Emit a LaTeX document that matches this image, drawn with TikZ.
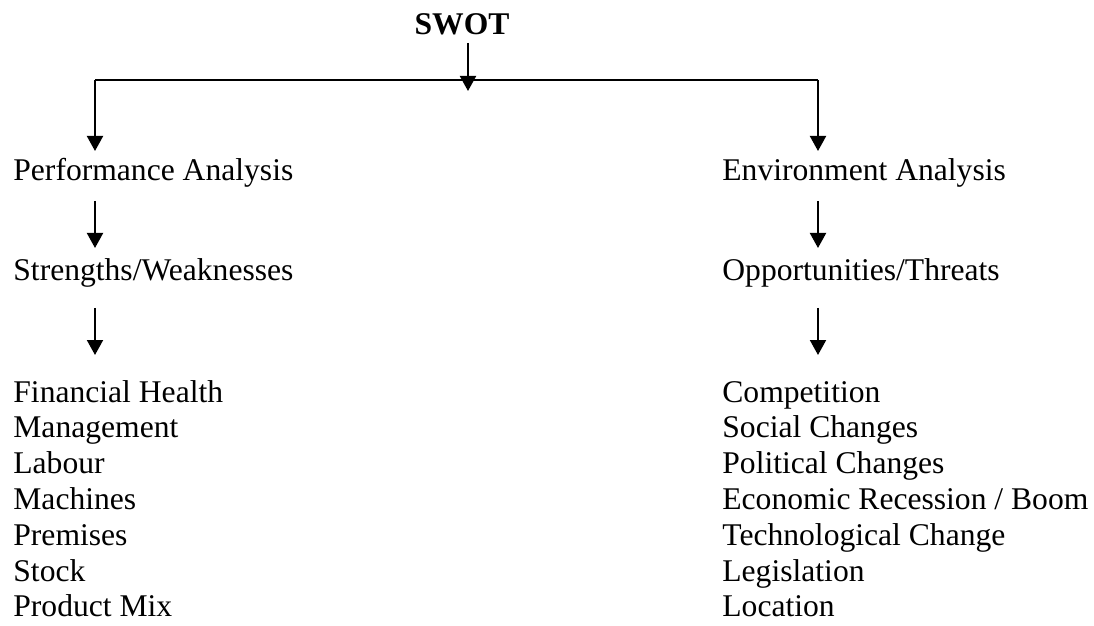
\documentclass[tikz,border=0pt]{standalone}
\usepackage{fontspec}
\setmainfont{Liberation Serif}
\usetikzlibrary{arrows.meta}
\begin{document}
\begin{tikzpicture}[x=0.5pt,y=-0.5pt,
  txt/.style={anchor=base west,inner sep=0pt,font=\fontsize{15.8}{19}\selectfont},
  ttl/.style={anchor=base,inner sep=0pt,font=\fontsize{15.8}{19}\selectfont\bfseries},
  conn/.style={line width=1pt},
  arr/.style={line width=1pt,-{Triangle[length=7.5pt,width=8pt]}}]
\useasboundingbox (0,0) rectangle (1094,626);
\node[ttl] (swot) at (462,35) {SWOT};
\node[txt] (pa) at (13,181) {Performance Analysis};
\node[txt] (ea) at (722,181) {Environment Analysis};
\node[txt] (sw) at (13,280) {Strengths/Weaknesses};
\node[txt] (ot) at (722,280) {Opportunities/Threats};
\foreach \t [count=\i from 0] in {Financial Health,Management,Labour,Machines,Premises,Stock,Product Mix}
  \node[txt] (l\i) at (13,402+35.8*\i) {\t};
\foreach \t [count=\i from 0] in {Competition,Social Changes,Political Changes,Economic Recession / Boom,Technological Change,Legislation,Location}
  \node[txt] (r\i) at (722,402+35.8*\i) {\t};
% coordinates for connectors
\coordinate (s0) at (468,43);
\coordinate (s1) at (468,91);
\coordinate (hl) at (95,80);
\coordinate (hr) at (818,80);
\coordinate (pa-t) at (95,151);
\coordinate (ea-t) at (818,151);
\coordinate (pa-b) at (95,201);
\coordinate (sw-t) at (95,248);
\coordinate (ea-b) at (818,201);
\coordinate (ot-t) at (818,248);
\coordinate (sw-b) at (95,308);
\coordinate (l-t) at (95,355);
\coordinate (ot-b) at (818,308);
\coordinate (r-t) at (818,355);
\draw[arr] (s0) -- (s1);
\draw[conn] (hl) -- (hr);
\draw[arr] (hl) -- (pa-t);
\draw[arr] (hr) -- (ea-t);
\draw[arr] (pa-b) -- (sw-t);
\draw[arr] (ea-b) -- (ot-t);
\draw[arr] (sw-b) -- (l-t);
\draw[arr] (ot-b) -- (r-t);
\end{tikzpicture}
\end{document}
